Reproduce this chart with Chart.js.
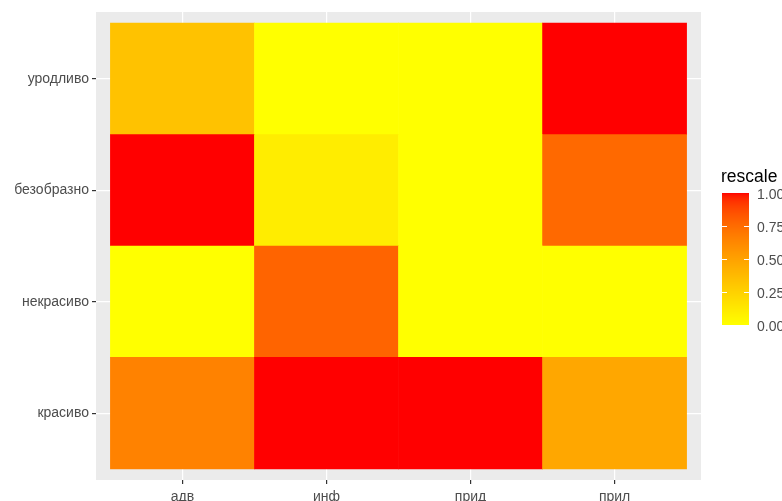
<!DOCTYPE html>
<html>
<head>
<meta charset="utf-8">
<script src="https://cdn.jsdelivr.net/npm/chart.js@4.4.1/dist/chart.umd.min.js"></script>
<style>
  html, body { margin: 0; padding: 0; background: #fff; }
  #wrap { width: 782px; height: 501px; position: relative; }
</style>
</head>
<body>
<div id="wrap"><canvas id="heat"></canvas></div>
<script>
// ── data ──
const columns = ['адв', 'инф', 'прид', 'прил'];
const rows = ['красиво', 'некрасиво', 'безобразно', 'уродливо']; // bottom to top
const krasivo    = [0.65, 1.00, 1.00, 0.47];
const nekrasivo  = [0.00, 0.78, 0.00, 0.00];
const bezobrazno = [1.00, 0.10, 0.00, 0.76];
const urodlivo   = [0.33, 0.00, 0.00, 1.00];
const rowValues = [krasivo, nekrasivo, bezobrazno, urodlivo];
const legendTicks = [0, 0.25, 0.5, 0.75, 1];

// ── colour scale: yellow -> red, interpolated in Lab like ggplot ──
function rgbToLab(r, g, b) {
  const lin = c => { c /= 255; return c > 0.04045 ? Math.pow((c + 0.055) / 1.055, 2.4) : c / 12.92; };
  const R = lin(r), G = lin(g), B = lin(b);
  const X = (0.4124 * R + 0.3576 * G + 0.1805 * B) / 0.95047;
  const Y = (0.2126 * R + 0.7152 * G + 0.0722 * B);
  const Z = (0.0193 * R + 0.1192 * G + 0.9505 * B) / 1.08883;
  const f = t => t > 0.008856 ? Math.cbrt(t) : 7.787 * t + 16 / 116;
  const fx = f(X), fy = f(Y), fz = f(Z);
  return [116 * fy - 16, 500 * (fx - fy), 200 * (fy - fz)];
}
function labToRgb(L, a, b) {
  const fy = (L + 16) / 116, fx = fy + a / 500, fz = fy - b / 200;
  const inv = t => t > 0.206893 ? t * t * t : (t - 16 / 116) / 7.787;
  const X = inv(fx) * 0.95047, Y = inv(fy), Z = inv(fz) * 1.08883;
  let R = 3.2406 * X - 1.5372 * Y - 0.4986 * Z;
  let G = -0.9689 * X + 1.8758 * Y + 0.0415 * Z;
  let B = 0.0557 * X - 0.2040 * Y + 1.0570 * Z;
  const gam = c => {
    c = c > 0.0031308 ? 1.055 * Math.pow(c, 1 / 2.4) - 0.055 : 12.92 * c;
    return Math.round(Math.min(1, Math.max(0, c)) * 255);
  };
  return 'rgb(' + gam(R) + ',' + gam(G) + ',' + gam(B) + ')';
}
const LOW = rgbToLab(255, 255, 0), HIGH = rgbToLab(255, 0, 0);
function fillColour(t) {
  return labToRgb(LOW[0] + (HIGH[0] - LOW[0]) * t, LOW[1] + (HIGH[1] - LOW[1]) * t, LOW[2] + (HIGH[2] - LOW[2]) * t);
}

// ── plugins ──
const panelBg = {
  id: 'panelBg',
  beforeDraw(chart) {
    const { ctx, chartArea: a } = chart;
    ctx.save();
    ctx.fillStyle = '#EBEBEB';
    ctx.fillRect(a.left, a.top, a.right - a.left, a.bottom - a.top);
    ctx.restore();
  }
};

const colourBar = {
  id: 'colourBar',
  afterDraw(chart) {
    const ctx = chart.ctx;
    const x = 722, w = 27, top = 193, bottom = 325;
    ctx.save();
    ctx.font = '17.5px "Liberation Sans", Arial, sans-serif';
    ctx.fillStyle = '#000';
    ctx.textBaseline = 'alphabetic';
    ctx.fillText('rescale', 721, 182);
    for (let y = top; y < bottom; y++) {
      ctx.fillStyle = fillColour((bottom - y - 0.5) / (bottom - top));
      ctx.fillRect(x, y, w, 1);
    }
    ctx.strokeStyle = '#fff';
    ctx.lineWidth = 1;
    ctx.font = '14px "Liberation Sans", Arial, sans-serif';
    ctx.textBaseline = 'middle';
    legendTicks.forEach(t => {
      const y = bottom - t * (bottom - top);
      if (t > 0 && t < 1) {
        ctx.beginPath();
        ctx.moveTo(x, y + 0.5); ctx.lineTo(x + 5, y + 0.5);
        ctx.moveTo(x + w - 5, y + 0.5); ctx.lineTo(x + w, y + 0.5);
        ctx.stroke();
      }
      ctx.fillStyle = '#4D4D4D';
      ctx.fillText(t.toFixed(2), 757, y + 2);
    });
    ctx.restore();
  }
};

// ── chart ──
const datasets = rows.map((name, r) => ({
  label: name,
  data: columns.map((c, i) => ({ x: i, y: [r - 0.5, r + 0.5] })),
  backgroundColor: ctx => fillColour(rowValues[r][ctx.dataIndex]),
  borderWidth: 0,
  borderSkipped: false,
  grouped: false,
  barPercentage: 1,
  categoryPercentage: 1,
}));

const tickFont = { family: '"Liberation Sans", Arial, sans-serif', size: 14 };

new Chart(document.getElementById('heat'), {
  type: 'bar',
  data: { datasets },
  plugins: [panelBg, colourBar],
  options: {
    responsive: true, maintainAspectRatio: false,
    animation: false,
    layout: { padding: { top: 12, right: 81, left: 0, bottom: 0 } },
    plugins: { legend: { display: false }, tooltip: { enabled: false } },
    scales: {
      x: {
        type: 'linear', min: -0.6, max: 3.6, offset: false,
        afterBuildTicks: s => { s.ticks = columns.map((_, i) => ({ value: i })); },
        afterFit: s => { s.height = 21; },
        ticks: { callback: v => columns[Math.round(v)], color: '#4D4D4D', font: tickFont, padding: 5, autoSkip: false, maxRotation: 0 },
        grid: { offset: false, color: '#FFFFFF', lineWidth: 1.2, tickColor: '#333333', tickLength: 4 },
        border: { display: false },
      },
      y: {
        type: 'linear', min: -0.6, max: 3.6,
        afterBuildTicks: s => { s.ticks = rows.map((_, i) => ({ value: i })); },
        afterFit: s => { s.width = 96; },
        ticks: { callback: v => rows[Math.round(v)], color: '#4D4D4D', font: tickFont, padding: 3, autoSkip: false },
        grid: { color: '#FFFFFF', lineWidth: 1.2, tickColor: '#333333', tickLength: 4 },
        border: { display: false },
      },
    },
  },
});
</script>
</body>
</html>
